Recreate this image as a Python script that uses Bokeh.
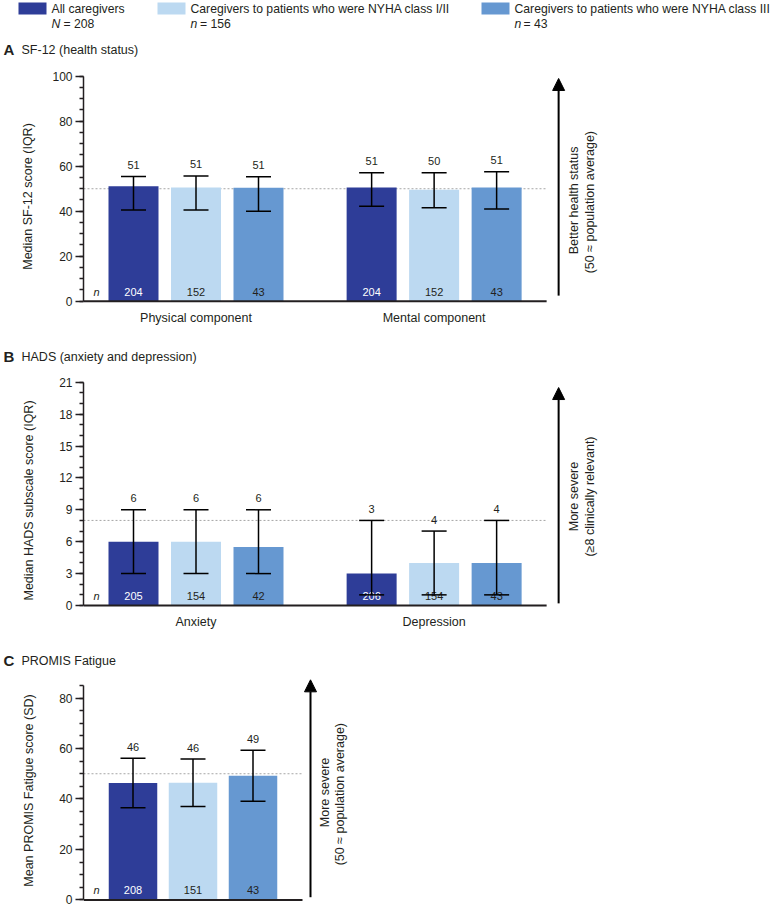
import math
from bokeh.plotting import figure
from bokeh.layouts import column, row
from bokeh.models import (Range1d, SingleIntervalTicker, Whisker, TeeHead, ColumnDataSource,
                          Arrow, NormalHead)
from bokeh.core.properties import value
from bokeh.embed import file_html
from bokeh.resources import INLINE

# ---------------- data ----------------
series_names = ["All caregivers",
                "Caregivers to patients who were NYHA class I/II",
                "Caregivers to patients who were NYHA class III"]
series_n_symbol = ["N", "n", "n"]
series_n_total = ["= 208", "= 156", "= 43"]
series_colors = ["#2E3D98", "#BCD9F1", "#6698D1"]
n_text_colors = ["#FFFFFF", "#231F20", "#231F20"]

sf12_categories = ["Physical component", "Mental component"]
sf12_median_all = [51.1, 50.5]
sf12_median_nyha12 = [50.5, 49.5]
sf12_median_nyha3 = [50.4, 50.5]
sf12_q1_all = [40.5, 42.2]
sf12_q3_all = [55.4, 57.1]
sf12_q1_nyha12 = [40.5, 41.6]
sf12_q3_nyha12 = [55.7, 57.1]
sf12_q1_nyha3 = [40.0, 41.0]
sf12_q3_nyha3 = [55.3, 57.5]
sf12_label_all = ["51", "51"]
sf12_label_nyha12 = ["51", "50"]
sf12_label_nyha3 = ["51", "51"]
sf12_n_all = ["204", "204"]
sf12_n_nyha12 = ["152", "152"]
sf12_n_nyha3 = ["43", "43"]

hads_categories = ["Anxiety", "Depression"]
hads_median_all = [6, 3]
hads_median_nyha12 = [6, 4]
hads_median_nyha3 = [5.5, 4]
hads_q1_all = [3, 1]
hads_q3_all = [9, 8]
hads_q1_nyha12 = [3, 1]
hads_q3_nyha12 = [9, 7]
hads_q1_nyha3 = [3, 1]
hads_q3_nyha3 = [9, 8]
hads_label_all = ["6", "3"]
hads_label_nyha12 = ["6", "4"]
hads_label_nyha3 = ["6", "4"]
hads_n_all = ["205", "206"]
hads_n_nyha12 = ["154", "154"]
hads_n_nyha3 = ["42", "43"]

promis_mean = [46.3, 46.4, 49.2]
promis_sd = [9.8, 9.4, 10.1]
promis_label = ["46", "46", "49"]
promis_n = ["208", "151", "43"]

# ---------------- style ----------------
FONT = "Liberation Sans"
TXT = "#231F20"
W = 772
LEFT = 83


def style_fig(p):
    p.outline_line_color = None
    p.background_fill_color = "white"
    p.border_fill_color = "white"
    for g in p.grid:
        g.grid_line_color = None


def text(p, x, y, t, size="12.5px", style="normal", color=TXT, align="left",
         baseline="middle", angle=0.0, x_offset=0, y_offset=0):
    p.text(x=x, y=y, text=t, text_font=value(FONT), text_font_size=value(size),
           text_font_style=style, text_color=color, text_align=align,
           text_baseline=baseline, angle=angle, x_offset=x_offset, y_offset=y_offset)


def plain_fig(height):
    p = figure(width=W, height=height, x_range=Range1d(0, W), y_range=Range1d(height, 0),
               x_axis_type=None, y_axis_type=None, output_backend="svg",
               toolbar_location=None, min_border_left=0, min_border_right=0,
               min_border_top=0, min_border_bottom=0)
    style_fig(p)
    return p


def panel(height, y_range, px_per_unit_x, pad, group_step, categories,
          medians, lows, highs, labels, ns, y_bounds, interval, minor,
          ylabel, ylabel_standoff, ref_value, side_lines, side_y,
          arrow_y0, arrow_y1, arrow_dx, side_dx, bar_px):
    n_series = len(medians)
    n_groups = len(medians[0])
    frame_w = W - LEFT
    x_start = -pad
    x_end = x_start + frame_w / px_per_unit_x
    p = figure(width=W, height=height, x_range=Range1d(x_start, x_end),
               y_range=Range1d(*y_range), x_axis_type=None,
               output_backend="svg", toolbar_location=None,
               min_border_left=LEFT, min_border_right=0, min_border_top=0,
               min_border_bottom=0)
    style_fig(p)
    ax = p.yaxis[0]
    ax.bounds = y_bounds
    ax.ticker = SingleIntervalTicker(interval=interval, num_minor_ticks=minor)
    ax.axis_line_width = 1.5
    ax.axis_line_color = TXT
    ax.major_tick_line_width = 1.5
    ax.major_tick_line_color = TXT
    ax.major_tick_out = 8
    ax.major_tick_in = 0
    ax.minor_tick_line_width = 1.5
    ax.minor_tick_line_color = TXT
    ax.minor_tick_out = 4
    ax.minor_tick_in = 0
    ax.major_label_text_font = FONT
    ax.major_label_text_font_size = "12px"
    ax.major_label_text_color = TXT
    ax.major_label_standoff = 3
    ax.axis_label = ylabel
    ax.axis_label_text_font = FONT
    ax.axis_label_text_font_size = "12.5px"
    ax.axis_label_text_font_style = "normal"
    ax.axis_label_text_color = TXT
    ax.axis_label_standoff = ylabel_standoff

    xs = [[g * group_step + s for g in range(n_groups)] for s in range(n_series)]
    axis_end = xs[-1][-1] + pad

    p.segment(x0=[x_start], y0=[ref_value], x1=[axis_end], y1=[ref_value],
              line_color="#A6A6A6", line_width=1, line_dash="2 2")

    bw = bar_px / px_per_unit_x
    for s in range(n_series):
        p.vbar(x=xs[s], top=medians[s], bottom=0, width=bw,
               fill_color=series_colors[s], line_color=None)
    p.segment(x0=[x_start], y0=[0], x1=[axis_end], y1=[0], line_color=TXT, line_width=2)

    for s in range(n_series):
        text(p, xs[s], [0] * n_groups, ns[s], size="11px", align="center",
             color=n_text_colors[s], y_offset=-9.5)
        src = ColumnDataSource(dict(x=xs[s], lower=lows[s], upper=highs[s]))
        p.add_layout(Whisker(source=src, base="x", lower="lower", upper="upper",
                             level="overlay", line_color="black", line_width=1.5,
                             upper_head=TeeHead(size=25, line_color="black", line_width=1.5),
                             lower_head=TeeHead(size=25, line_color="black", line_width=1.5)))
        text(p, xs[s], highs[s], labels[s], size="11px", align="center", y_offset=-11.5)

    text(p, [x_start], [0], ["n"], size="11px", style="italic", x_offset=10, y_offset=-9.5)

    if categories:
        mid = n_series // 2
        text(p, xs[mid], [0] * n_groups, categories, size="12.5px", align="center", y_offset=17)

    ax_x = axis_end + arrow_dx / px_per_unit_x
    p.add_layout(Arrow(x_start=ax_x, y_start=arrow_y0, x_end=ax_x, y_end=arrow_y1,
                       line_color="black", line_width=2,
                       end=NormalHead(size=12, fill_color="black", line_color="black")))
    for i, line in enumerate(side_lines):
        text(p, [axis_end], [side_y], [line], size="12.5px", align="center",
             angle=math.pi / 2, x_offset=side_dx[i])
    return p


# ---------------- legend + title A ----------------
leg = plain_fig(62)
legend_left = [18, 157, 481]
sw_w = 28
n_gap = [12, 9.5, 9]
leg.quad(left=legend_left, right=[v + sw_w for v in legend_left],
         top=[2] * 3, bottom=[14] * 3, fill_color=series_colors, line_color=None)
tx = [v + sw_w + 5 for v in legend_left]
text(leg, tx, [8] * 3, series_names, size="12.2px")
text(leg, tx, [23.5] * 3, series_n_symbol, size="12.2px", style="italic")
text(leg, [t + g for t, g in zip(tx, n_gap)], [23.5] * 3, series_n_total, size="12.2px")
text(leg, [3], [49], ["A"], size="15px", style="bold")
text(leg, [21], [49], ["SF-12 (health status)"], size="12.5px")

# ---------------- title B ----------------
tB = plain_fig(38)
text(tB, [3], [26], ["B"], size="15px", style="bold")
text(tB, [21], [26], ["HADS (anxiety and depression)"], size="12.5px")

# ---------------- title C ----------------
tC = plain_fig(40)
text(tC, [3], [28], ["C"], size="15px", style="bold")
text(tC, [21], [28], ["PROMIS Fatigue"], size="12.5px")

# ---------------- panels ----------------
pA = panel(268, (-13.0, 106.1), 62.5, 0.8, 3.81, sf12_categories,
           [sf12_median_all, sf12_median_nyha12, sf12_median_nyha3],
           [sf12_q1_all, sf12_q1_nyha12, sf12_q1_nyha3],
           [sf12_q3_all, sf12_q3_nyha12, sf12_q3_nyha3],
           [sf12_label_all, sf12_label_nyha12, sf12_label_nyha3],
           [sf12_n_all, sf12_n_nyha12, sf12_n_nyha3],
           (0, 100), 20, 4, "Median SF-12 score (IQR)", 14, 50,
           ["Better health status", "(50 \u2248  population average)"], 44.8,
           2.5, 99.0, 12, [27, 43], 50)

pB = panel(264, (-2.54, 22.29), 62.5, 0.8, 3.81, hads_categories,
           [hads_median_all, hads_median_nyha12, hads_median_nyha3],
           [hads_q1_all, hads_q1_nyha12, hads_q1_nyha3],
           [hads_q3_all, hads_q3_nyha12, hads_q3_nyha3],
           [hads_label_all, hads_label_nyha12, hads_label_nyha3],
           [hads_n_all, hads_n_nyha12, hads_n_nyha3],
           (0, 21), 3, 3, "Median HADS subscale score (IQR)", 20, 8,
           ["More severe", "(\u22658 clinically relevant)"], 10.25,
           0.2, 20.5, 12, [27, 43], 50)

pC = panel(236, (-3.37, 90.1), 60.0, 0.825, 1.0, None,
           [[m] for m in promis_mean],
           [[m - s] for m, s in zip(promis_mean, promis_sd)],
           [[m + s] for m, s in zip(promis_mean, promis_sd)],
           [[l] for l in promis_label],
           [[n] for n in promis_n],
           (0, 85), 20, 4, "Mean PROMIS Fatigue score (SD)", 20, 50,
           ["More severe", "(50 \u2248  population average)"], 42.6,
           1.1, 87.2, 8, [22, 37], 48.5)

layout = column(row(leg), pA, column(tB), pB, column(tC), pC, spacing=0)
open("out.html", "w").write(file_html(layout, INLINE))
